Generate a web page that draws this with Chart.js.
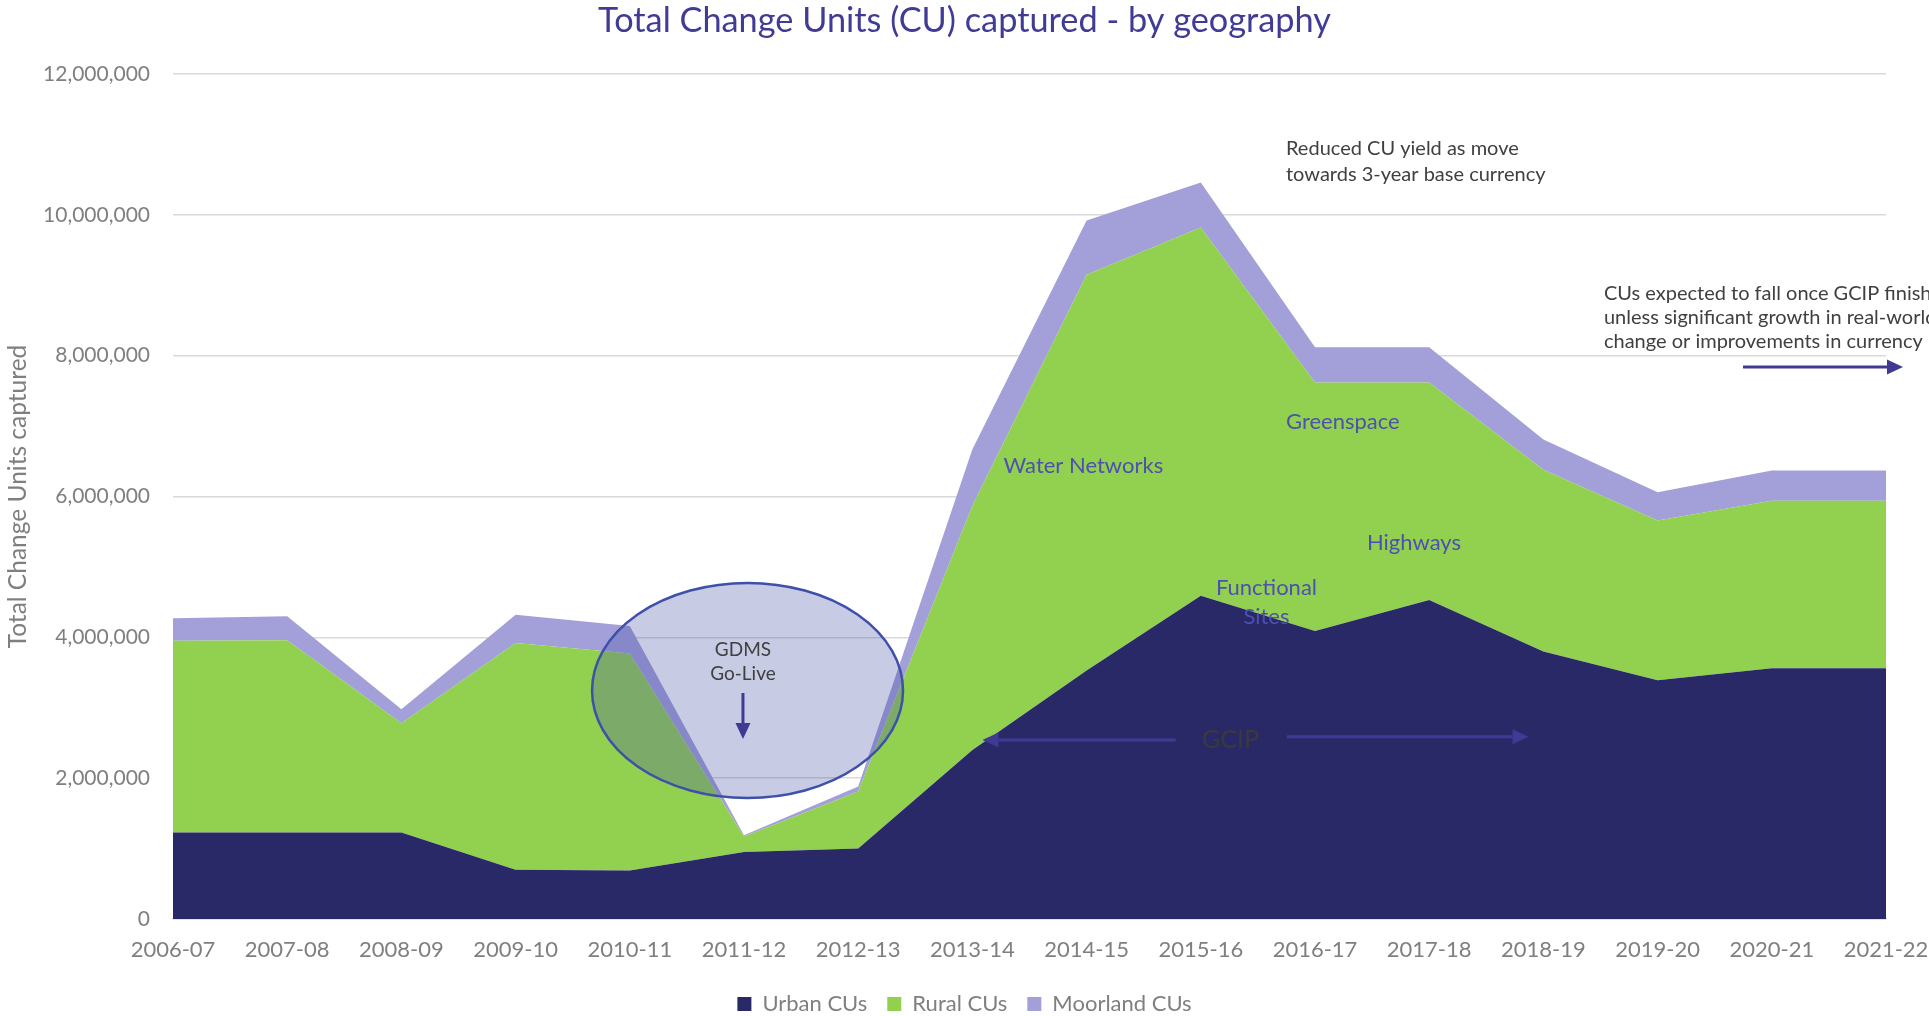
<!DOCTYPE html>
<html>
<head>
<meta charset="utf-8">
<script src="https://cdn.jsdelivr.net/npm/chart.js@4"></script>
<style>
html,body{margin:0;padding:0;background:#ffffff;}
#wrap{width:1929px;height:1016px;position:relative;}
</style>
</head>
<body>
<div id="wrap"><canvas id="c"></canvas></div>
<script>
const categories = ['2006-07','2007-08','2008-09','2009-10','2010-11','2011-12','2012-13','2013-14','2014-15','2015-16','2016-17','2017-18','2018-19','2019-20','2020-21','2021-22'];
const urbanCUs    = [1230000,1230000,1230000,700000,690000,950000,1000000,2400000,3530000,4590000,4090000,4530000,3800000,3390000,3560000,3560000];
const ruralCUs    = [2720000,2730000,1550000,3220000,3080000,220000,810000,3470000,5620000,5230000,3530000,3090000,2580000,2270000,2380000,2380000];
const moorlandCUs = [320000,340000,200000,400000,390000,20000,70000,800000,770000,640000,500000,500000,430000,400000,430000,430000];
const yTickValues = [0,2000000,4000000,6000000,8000000,10000000,12000000];

const FONT = 'Lato';
const GRAY = '#7f7f7f';
const DARK = '#404040';
const INDIGO = '#403a94';
const LABEL_BLUE = '#4d50b0';

function arrow(ctx, x1, y1, x2, y2, color) {
  const ang = Math.atan2(y2 - y1, x2 - x1);
  const hl = 16, hw = 7.5;
  const bx = x2 - hl * Math.cos(ang), by = y2 - hl * Math.sin(ang);
  ctx.save();
  ctx.strokeStyle = color; ctx.fillStyle = color; ctx.lineWidth = 3;
  ctx.beginPath(); ctx.moveTo(x1, y1); ctx.lineTo(bx, by); ctx.stroke();
  ctx.beginPath();
  ctx.moveTo(x2, y2);
  ctx.lineTo(bx + hw * Math.sin(ang), by - hw * Math.cos(ang));
  ctx.lineTo(bx - hw * Math.sin(ang), by + hw * Math.cos(ang));
  ctx.closePath(); ctx.fill();
  ctx.restore();
}

const annotations = {
  id: 'annotations',
  afterDatasetsDraw(chart) {
    const {ctx, scales: {x, y}} = chart;
    const x0 = x.getPixelForValue(0), dx = x.getPixelForValue(1) - x0;
    const X = i => x0 + i * dx;
    const Y = v => y.getPixelForValue(v);
    const perM = Y(0) - Y(1000000);
    ctx.save();

    // GDMS ellipse
    ctx.beginPath();
    ctx.ellipse(X(5.031), Y(3245000), 1.3616 * dx, 1.5266 * perM, 0, 0, Math.PI * 2);
    ctx.fillStyle = 'rgba(68,84,166,0.30)';
    ctx.fill();
    ctx.lineWidth = 2.5;
    ctx.strokeStyle = '#3e50aa';
    ctx.stroke();

    ctx.textBaseline = 'alphabetic';
    ctx.fillStyle = DARK;
    ctx.font = '19px ' + FONT;
    ctx.textAlign = 'center';
    ctx.fillText('GDMS', X(4.991), Y(3735000));
    ctx.fillText('Go-Live', X(4.991), Y(3394000));
    arrow(ctx, X(4.991), Y(3209000), X(4.991), Y(2556000), INDIGO);

    // top annotation
    ctx.font = '20px ' + FONT;
    ctx.textAlign = 'left';
    ctx.fillText('Reduced CU yield as move', X(9.746), Y(10849000));
    ctx.fillText('towards 3-year base currency', X(9.746), Y(10480000));

    // right annotation
    ctx.fillText('CUs expected to fall once GCIP finishes', X(12.53), Y(8790000));
    ctx.fillText('unless significant growth in real-world', X(12.53), Y(8449000));
    ctx.fillText('change or improvements in currency', X(12.53), Y(8109000));
    arrow(ctx, X(13.748), Y(7839000), X(15.149), Y(7839000), INDIGO);

    // category labels in the green area
    ctx.fillStyle = LABEL_BLUE;
    ctx.font = '22px ' + FONT;
    ctx.textBaseline = 'middle';
    ctx.textAlign = 'left';
    ctx.fillText('Water Networks', X(7.273), Y(6437000));
    ctx.fillText('Greenspace', X(9.746), Y(7058000));
    ctx.fillText('Highways', X(10.455), Y(5340000));
    ctx.textAlign = 'center';
    ctx.fillText('Functional', X(9.575), Y(4701000));
    ctx.fillText('Sites', X(9.575), Y(4289000));

    // GCIP
    ctx.fillStyle = '#3a3a3a';
    ctx.font = '25px ' + FONT;
    ctx.fillText('GCIP', X(9.26), Y(2542000));
    arrow(ctx, X(8.781), Y(2542000), X(7.088), Y(2542000), INDIGO);
    arrow(ctx, X(9.753), Y(2589000), X(11.870), Y(2589000), INDIGO);

    ctx.restore();
  }
};

new Chart(document.getElementById('c'), {
  type: 'line',
  data: {
    labels: categories,
    datasets: [
      {label: 'Urban CUs', data: urbanCUs, backgroundColor: '#2a2968', borderColor: '#2a2968', fill: 'origin'},
      {label: 'Rural CUs', data: ruralCUs, backgroundColor: '#92d050', borderColor: '#92d050', fill: '-1'},
      {label: 'Moorland CUs', data: moorlandCUs, backgroundColor: '#a39fd8', borderColor: '#a39fd8', fill: '-1'}
    ]
  },
  options: {
    responsive: true,
    maintainAspectRatio: false,
    animation: false,
    elements: {
      point: {radius: 0, hoverRadius: 0},
      line: {borderWidth: 0, tension: 0}
    },
    layout: {padding: {left: 43, right: 43, top: 0, bottom: -9}},
    plugins: {
      title: {
        display: true,
        text: 'Total Change Units (CU) captured - by geography',
        color: '#403c96',
        font: {family: FONT, size: 34.3, weight: 'normal', lineHeight: 1.2},
        padding: {top: 0, bottom: 32.8}
      },
      legend: {
        position: 'bottom',
        labels: {
          color: GRAY,
          font: {family: FONT, size: 22},
          boxWidth: 14,
          boxHeight: 14,
          padding: 20
        }
      },
      tooltip: {enabled: false}
    },
    scales: {
      x: {
        offset: false,
        grid: {display: false, drawTicks: false},
        border: {display: true, color: '#d9d9d9', width: 1.5},
        ticks: {color: GRAY, font: {family: FONT, size: 22, lineHeight: 2.836}, padding: 0, maxRotation: 0, autoSkip: false},
        afterFit(s) { s.height = 54; }
      },
      y: {
        stacked: true,
        min: 0,
        max: 12000000,
        afterBuildTicks(s) { s.ticks = yTickValues.map(v => ({value: v})); },
        grid: {color: '#d9d9d9', lineWidth: 1.5, drawTicks: false},
        border: {display: false},
        ticks: {
          color: GRAY,
          font: {family: FONT, size: 21},
          padding: 23,
          callback: v => Number(v).toLocaleString('en-US')
        },
        title: {
          display: true,
          text: 'Total Change Units captured',
          color: GRAY,
          font: {family: FONT, size: 24.5},
          padding: {top: -39.2, bottom: 0}
        },
        afterFit(s) { s.width = 130; }
      }
    }
  },
  plugins: [annotations]
});
</script>
</body>
</html>
